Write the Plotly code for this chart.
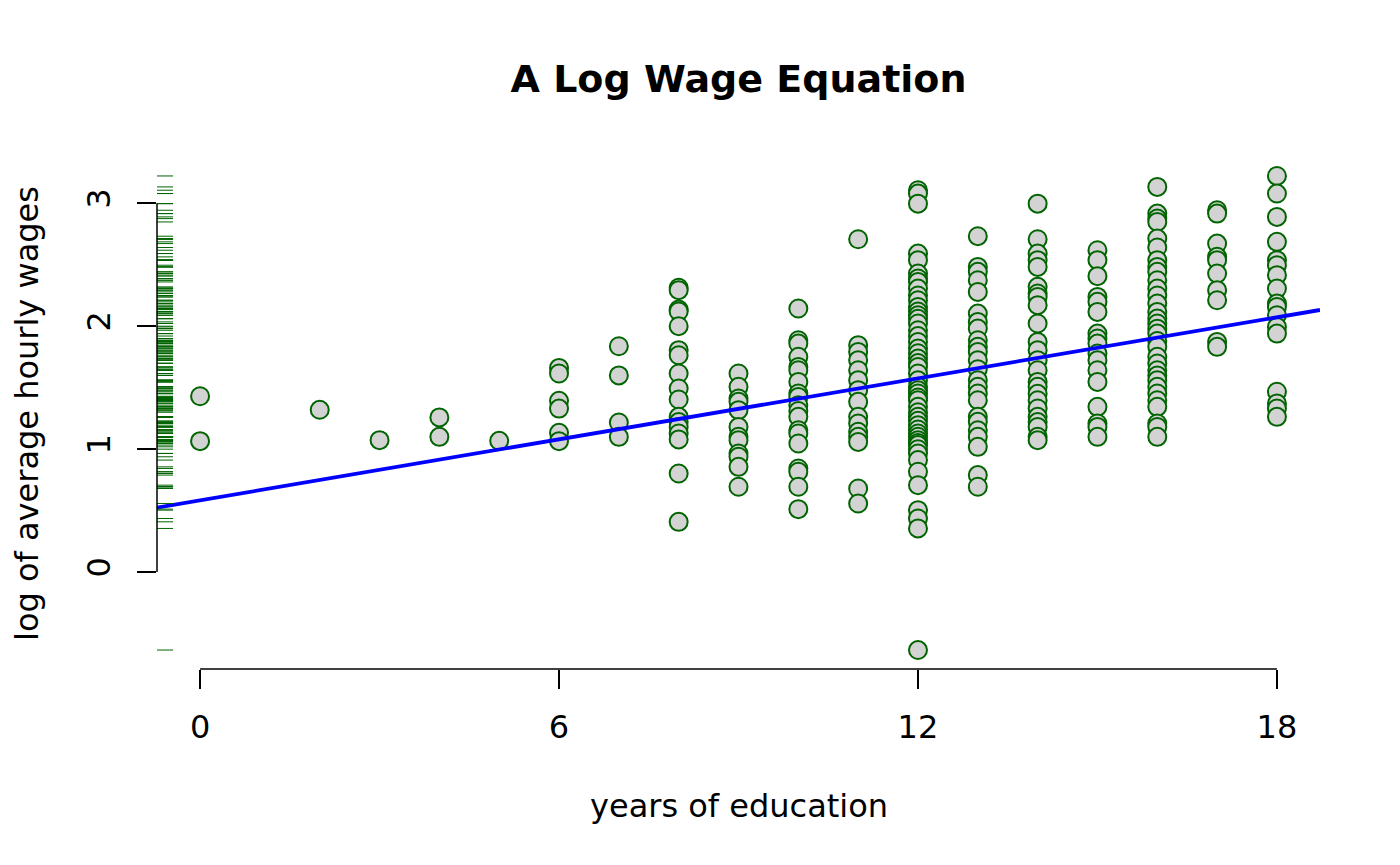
import plotly.graph_objects as go

# log(wage) values, one list per years of education
educ_levels = [0, 2, 3, 4, 5, 6, 7, 8, 9, 10, 11, 12, 13, 14, 15, 16, 17, 18]
lwage_by_educ = {
    0: [1.43, 1.065],
    2: [1.32],
    3: [1.073],
    4: [1.258, 1.10],
    5: [1.068],
    6: [1.661, 1.615, 1.393, 1.33, 1.133, 1.065],
    7: [1.837, 1.60, 1.217, 1.10],
    8: [2.312, 2.293, 2.136, 2.12, 2.0, 1.805, 1.764, 1.615, 1.493, 1.404,
        1.263, 1.22, 1.181, 1.127, 1.079, 0.802, 0.409],
    9: [1.615, 1.507, 1.412, 1.385, 1.317, 1.181, 1.10, 1.073, 0.965, 0.938,
        0.856, 0.694],
    10: [2.144, 1.886, 1.859, 1.751, 1.669, 1.642, 1.547, 1.453, 1.425, 1.358,
         1.31, 1.263, 1.154, 1.127, 1.046, 0.843, 0.816, 0.694, 0.512],
    11: [2.707, 1.846, 1.791, 1.724, 1.642, 1.561, 1.48, 1.385, 1.263, 1.209,
         1.141, 1.10, 1.059, 0.680, 0.558],
    12: [3.106, 3.079, 2.997, 2.591, 2.537, 2.428, 2.388, 2.36, 2.306, 2.25,
         2.211, 2.157, 2.12, 2.089, 2.06, 2.022, 1.967, 1.92, 1.872, 1.818,
         1.78, 1.737, 1.70, 1.669, 1.615, 1.56, 1.507, 1.48, 1.453, 1.42,
         1.398, 1.344, 1.30, 1.263, 1.23, 1.195, 1.16, 1.127, 1.10, 1.073,
         1.05, 1.033, 1.00, 0.965, 0.911, 0.816, 0.707, 0.504, 0.436, 0.355,
         -0.634],
    13: [2.732, 2.482, 2.442, 2.374, 2.279, 2.103, 2.035, 1.981, 1.886, 1.832,
         1.791, 1.724, 1.65, 1.561, 1.507, 1.453, 1.398, 1.263, 1.222, 1.154,
         1.10, 1.019, 0.789, 0.694],
    14: [2.997, 2.707, 2.591, 2.537, 2.482, 2.320, 2.266, 2.238, 2.171, 2.022,
         1.872, 1.805, 1.724, 1.642, 1.547, 1.507, 1.45, 1.398, 1.331, 1.263,
         1.22, 1.181, 1.10, 1.073],
    15: [2.618, 2.537, 2.407, 2.238, 2.198, 2.116, 1.940, 1.90, 1.859, 1.778,
         1.724, 1.642, 1.547, 1.344, 1.209, 1.181, 1.10],
    16: [3.133, 2.916, 2.875, 2.848, 2.713, 2.640, 2.537, 2.482, 2.442, 2.374,
         2.306, 2.25, 2.184, 2.116, 2.062, 2.022, 1.98, 1.940, 1.88, 1.832,
         1.751, 1.697, 1.642, 1.60, 1.561, 1.507, 1.453, 1.398, 1.344, 1.209,
         1.181, 1.10],
    17: [2.943, 2.916, 2.672, 2.564, 2.537, 2.428, 2.293, 2.211, 1.872, 1.832],
    18: [3.222, 3.079, 2.889, 2.686, 2.537, 2.496, 2.415, 2.306, 2.184, 2.157,
         2.089, 1.994, 1.940, 1.467, 1.372, 1.331, 1.263],
}

# fitted line lwage = b0 + b1 * educ
b0 = 0.5838
b1 = 0.0827

x_ticks = [0, 6, 12, 18]
y_ticks = [0, 1, 2, 3]

educ = []
lwage = []
for e in educ_levels:
    for v in lwage_by_educ[e]:
        educ.append(e)
        lwage.append(v)

# R style ranges: data range padded by 4% on each side
def pad(lo, hi):
    d = (hi - lo) * 0.04
    return [lo - d, hi + d]

xr = pad(min(educ), max(educ))
yr = pad(min(lwage), max(lwage))

font = "DejaVu Sans"
green = "#006400"

fig = go.Figure()

fig.add_trace(go.Scatter(
    x=educ, y=lwage, mode="markers",
    marker=dict(size=18, color="#D3D3D3", line=dict(color=green, width=2)),
    showlegend=False, hoverinfo="x+y",
))

fig.add_trace(go.Scatter(
    x=xr, y=[b0 + b1 * v for v in xr], mode="lines",
    line=dict(color="#0000FF", width=3.8),
    showlegend=False,
))

shapes = []
# rug on the y axis
for v in lwage:
    shapes.append(dict(type="line", xref="paper", yref="y",
                       x0=0, x1=0.0138, y0=v, y1=v,
                       line=dict(color=green, width=1)))
# axis lines that stop at the outer ticks, as R draws them
shapes.append(dict(type="line", xref="x", yref="paper",
                   x0=x_ticks[0], x1=x_ticks[-1], y0=0, y1=0,
                   line=dict(color="black", width=1.5)))
shapes.append(dict(type="line", xref="paper", yref="y",
                   x0=0, x1=0, y0=y_ticks[0], y1=y_ticks[-1],
                   line=dict(color="black", width=1.5)))

# the page puts the figure 8px in from the top left corner
fig.update_layout(
    width=1400, height=865,
    margin=dict(l=149, r=88, t=149, b=204),
    paper_bgcolor="white", plot_bgcolor="white",
    font=dict(family=font, size=32, color="black"),
    title=dict(text="<b>A Log Wage Equation</b>", x=0.5, xref="paper",
               y=1 - 71 / 865, yanchor="middle",
               font=dict(family=font, size=38, color="black")),
    shapes=shapes,
    annotations=[
        dict(text="years of education", xref="paper", yref="paper",
             x=0.5, y=-0.2676, yanchor="middle", showarrow=False,
             font=dict(family=font, size=32)),
        dict(text="log of average hourly wages", xref="paper", yref="paper",
             x=-0.1118, y=0.5, xanchor="center", textangle=-90,
             showarrow=False, font=dict(family=font, size=32)),
    ],
)

fig.update_xaxes(range=xr, tickvals=x_ticks, ticks="outside", ticklen=19,
                 tickwidth=1.5, tickcolor="black", showgrid=False,
                 zeroline=False, showline=False, ticklabelstandoff=11)
fig.update_yaxes(range=yr, tickvals=y_ticks, ticks="outside", ticklen=19,
                 tickwidth=1.5, tickcolor="black", showgrid=False,
                 zeroline=False, showline=False, tickangle=-90,
                 ticklabelstandoff=14)

fig.write_html("out.html")
